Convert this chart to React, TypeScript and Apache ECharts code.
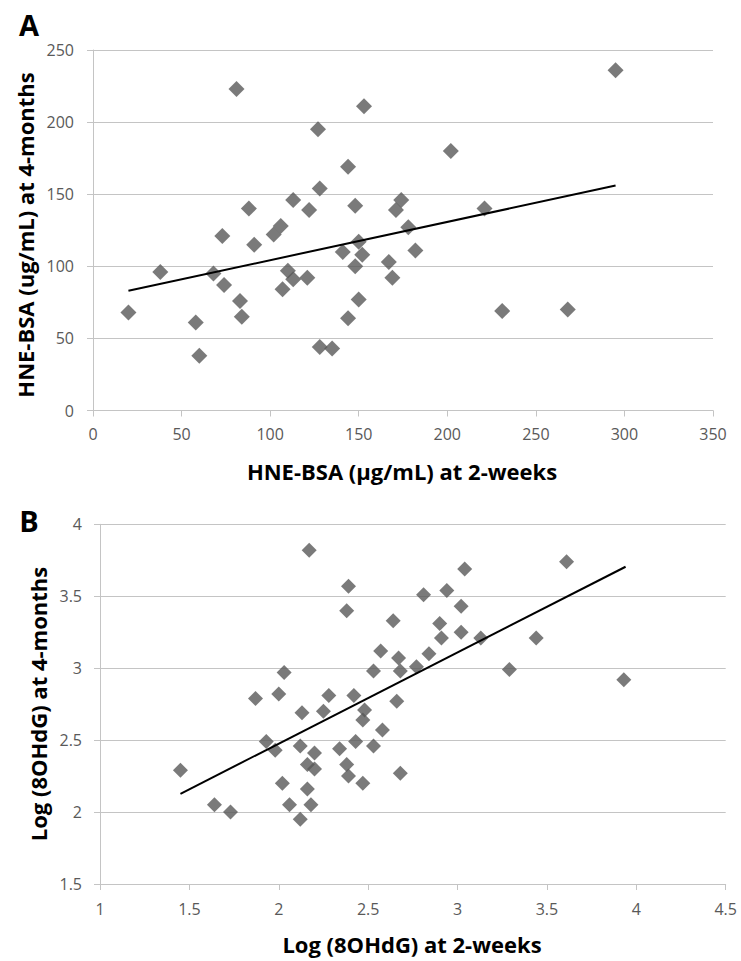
import React, { useEffect, useRef } from "react";
import * as echarts from "echarts";

// Panel A: HNE-BSA (µg/mL) at 2-weeks vs 4-months
const hneWeek2 = [20, 38, 58, 60, 68, 73, 74, 81, 83, 84, 88, 91, 102, 106, 107, 110, 113, 113, 121, 122, 127, 128, 128, 135, 141, 144, 144, 148, 148, 150, 150, 152, 153, 167, 169, 171, 174, 178, 182, 202, 221, 231, 268, 295];
const hneMonth4 = [68, 96, 61, 38, 95, 121, 87, 223, 76, 65, 140, 115, 122, 128, 84, 97, 91, 146, 92, 139, 195, 154, 44, 43, 110, 169, 64, 142, 100, 117, 77, 108, 211, 103, 92, 139, 146, 127, 111, 180, 140, 69, 70, 236];
const hneTrendX = [20, 295];
const hneTrendY = [83, 156];

// Panel B: Log (8OHdG) at 2-weeks vs 4-months
const ohWeek2 = [1.45, 1.64, 1.73, 1.87, 1.93, 1.98, 2.0, 2.02, 2.03, 2.06, 2.12, 2.12, 2.13, 2.16, 2.16, 2.17, 2.18, 2.2, 2.2, 2.25, 2.28, 2.34, 2.38, 2.39, 2.38, 2.39, 2.42, 2.43, 2.47, 2.47, 2.48, 2.53, 2.53, 2.57, 2.58, 2.64, 2.66, 2.67, 2.68, 2.68, 2.77, 2.81, 2.84, 2.9, 2.91, 2.94, 3.02, 3.02, 3.04, 3.13, 3.29, 3.44, 3.61, 3.93];
const ohMonth4 = [2.29, 2.05, 2.0, 2.79, 2.49, 2.43, 2.82, 2.2, 2.97, 2.05, 1.95, 2.46, 2.69, 2.33, 2.16, 3.82, 2.05, 2.3, 2.41, 2.7, 2.81, 2.44, 2.33, 2.25, 3.4, 3.57, 2.81, 2.49, 2.2, 2.64, 2.71, 2.98, 2.46, 3.12, 2.57, 3.33, 2.77, 3.07, 2.98, 2.27, 3.01, 3.51, 3.1, 3.31, 3.21, 3.54, 3.43, 3.25, 3.69, 3.21, 2.99, 3.21, 3.74, 2.92];
const ohTrendX = [1.45, 3.94];
const ohTrendY = [2.127, 3.705];

const FONT = "'Open Sans', Lato, sans-serif";
const GRID_COLOR = "#c4c4c4";
const LABEL_COLOR = "#595959";
const MARKER_COLOR = "#595959";

function zip(xs: number[], ys: number[]) {
  return xs.map((x, i) => [x, ys[i]]);
}

export default function App() {
  const ref = useRef<HTMLDivElement>(null);
  useEffect(() => {
    document.body.style.margin = "0";
    if (!ref.current) return;
    const chart = echarts.init(ref.current, null, { renderer: "svg" });
    const axisCommon = {
      axisLine: { show: true, lineStyle: { color: GRID_COLOR, width: 1 } },
      axisTick: { show: true, length: 6, lineStyle: { color: GRID_COLOR } },
      axisLabel: { color: LABEL_COLOR, fontFamily: FONT, fontSize: 16 },
    };
    const option = {
      animation: false,
      backgroundColor: "#ffffff",
      grid: [
        { left: 93, top: 50, width: 620, height: 360.5 },
        { left: 100, top: 524.3, width: 625.7, height: 359.7 },
      ],
      xAxis: [
        {
          gridIndex: 0, type: "value", min: 0, max: 350, interval: 50,
          ...axisCommon,
          axisLabel: { ...axisCommon.axisLabel, margin: 15 },
          splitLine: { show: false },
        },
        {
          gridIndex: 1, type: "value", min: 1, max: 4.5, interval: 0.5,
          ...axisCommon,
          axisLabel: { ...axisCommon.axisLabel, margin: 17 },
          splitLine: { show: false },
        },
      ],
      yAxis: [
        {
          gridIndex: 0, type: "value", min: 0, max: 250, interval: 50,
          ...axisCommon,
          axisLabel: { ...axisCommon.axisLabel, margin: 19 },
          splitLine: { show: true, lineStyle: { color: GRID_COLOR, width: 1 } },
        },
        {
          gridIndex: 1, type: "value", min: 1.5, max: 4, interval: 0.5,
          ...axisCommon,
          axisLabel: { ...axisCommon.axisLabel, margin: 18 },
          splitLine: { show: true, lineStyle: { color: GRID_COLOR, width: 1 } },
        },
      ],
      series: [
        {
          type: "scatter", xAxisIndex: 0, yAxisIndex: 0,
          symbol: "diamond", symbolSize: 16,
          itemStyle: { color: MARKER_COLOR },
          data: zip(hneWeek2, hneMonth4),
        },
        {
          type: "line", xAxisIndex: 0, yAxisIndex: 0,
          showSymbol: false, symbol: "none",
          lineStyle: { color: "#000000", width: 2 },
          data: zip(hneTrendX, hneTrendY),
          z: 3,
        },
        {
          type: "scatter", xAxisIndex: 1, yAxisIndex: 1,
          symbol: "diamond", symbolSize: 15,
          itemStyle: { color: MARKER_COLOR },
          data: zip(ohWeek2, ohMonth4),
        },
        {
          type: "line", xAxisIndex: 1, yAxisIndex: 1,
          showSymbol: false, symbol: "none",
          lineStyle: { color: "#000000", width: 2 },
          data: zip(ohTrendX, ohTrendY),
          z: 3,
        },
      ],
      graphic: [
        {
          type: "text", x: 29, y: 24,
          style: { text: "A", font: `bold 29px ${FONT}`, fill: "#000", align: "center", verticalAlign: "middle" },
        },
        {
          type: "text", x: 29, y: 520,
          style: { text: "B", font: `bold 29px ${FONT}`, fill: "#000", align: "center", verticalAlign: "middle" },
        },
        {
          type: "text", x: 25, y: 235, rotation: Math.PI / 2,
          style: { text: "HNE-BSA (ug/mL) at 4-months", font: `bold 22px ${FONT}`, fill: "#000", align: "center", verticalAlign: "middle" },
        },
        {
          type: "text", x: 402, y: 471,
          style: { text: "HNE-BSA (µg/mL) at 2-weeks", font: `bold 22px ${FONT}`, fill: "#000", align: "center", verticalAlign: "middle" },
        },
        {
          type: "text", x: 38, y: 704, rotation: Math.PI / 2,
          style: { text: "Log (8OHdG) at 4-months", font: `bold 22px ${FONT}`, fill: "#000", align: "center", verticalAlign: "middle" },
        },
        {
          type: "text", x: 412, y: 944,
          style: { text: "Log (8OHdG) at 2-weeks", font: `bold 22px ${FONT}`, fill: "#000", align: "center", verticalAlign: "middle" },
        },
      ],
    };
    chart.setOption(option as any);
    return () => chart.dispose();
  }, []);
  return <div ref={ref} style={{ width: 741, height: 961 }} />;
}
